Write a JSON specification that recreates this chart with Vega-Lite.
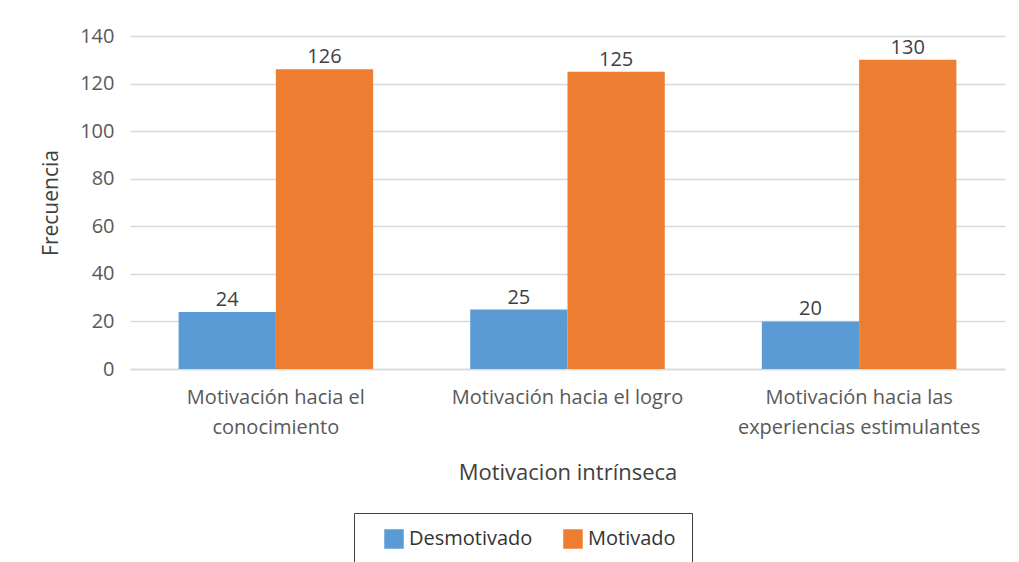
{
  "$schema": "https://vega.github.io/schema/vega-lite/v6.json",
  "autosize": "none",
  "width": 875,
  "height": 333,
  "padding": {"left": 130, "top": 36, "right": 14, "bottom": 193},
  "background": "white",
  "config": {
    "font": "Open Sans",
    "view": {"stroke": null},
    "axis": {"labelColor": "#595959", "titleColor": "#595959", "labelFont": "Open Sans", "titleFont": "Open Sans", "titleFontWeight": "normal"}
  },
  "data": {
    "values": [
      {"cat": "Motivación hacia el conocimiento", "grupo": "Desmotivado", "valor": 24},
      {"cat": "Motivación hacia el conocimiento", "grupo": "Motivado", "valor": 126},
      {"cat": "Motivación hacia el logro", "grupo": "Desmotivado", "valor": 25},
      {"cat": "Motivación hacia el logro", "grupo": "Motivado", "valor": 125},
      {"cat": "Motivación hacia las experiencias estimulantes", "grupo": "Desmotivado", "valor": 20},
      {"cat": "Motivación hacia las experiencias estimulantes", "grupo": "Motivado", "valor": 130}
    ]
  },
  "encoding": {
    "x": {
      "field": "cat", "type": "nominal", "sort": null,
      "scale": {"paddingInner": 0.333, "paddingOuter": 0.1667},
      "title": "Motivacion intrínseca",
      "axis": {
        "labelAngle": 0, "labelFontSize": 20, "labelPadding": 18, "labelLineHeight": 30, "labelLimit": 0,
        "labelBaseline": "top",
        "labelExpr": "datum.value == 'Motivación hacia el conocimiento' ? ['Motivación hacia el', 'conocimiento'] : datum.value == 'Motivación hacia las experiencias estimulantes' ? ['Motivación hacia las', 'experiencias estimulantes'] : datum.value",
        "ticks": false, "domain": true, "domainColor": "#D9D9D9", "domainWidth": 1.5,
        "titleFontSize": 22, "titlePadding": 25, "titleColor": "#404040"
      }
    },
    "xOffset": {"field": "grupo", "type": "nominal", "scale": {"paddingInner": 0}},
    "y": {
      "field": "valor", "type": "quantitative",
      "scale": {"domain": [0, 140], "nice": false},
      "title": "Frecuencia",
      "axis": {
        "values": [0, 20, 40, 60, 80, 100, 120, 140],
        "domain": false, "ticks": false, "gridColor": "#D9D9D9", "gridWidth": 1.5,
        "labelFontSize": 20, "labelPadding": 16, "titleFontSize": 21, "titlePadding": 18, "titleColor": "#404040"
      }
    }
  },
  "layer": [
    {
      "mark": {"type": "bar"},
      "encoding": {
        "color": {
          "field": "grupo", "type": "nominal",
          "scale": {"domain": ["Desmotivado", "Motivado"], "range": ["#5B9BD5", "#ED7D31"]},
          "legend": {
            "title": null, "orient": "none", "direction": "horizontal",
            "legendX": 224, "legendY": 477,
            "strokeColor": "#404040", "padding": 16,
            "symbolType": "square", "symbolSize": 380, "symbolStrokeWidth": 0, "symbolOpacity": 1,
            "labelFontSize": 20, "labelColor": "#333333", "labelFont": "Open Sans",
            "columnPadding": 16, "symbolOffset": 14, "labelOffset": 5
          }
        }
      }
    },
    {
      "mark": {"type": "text", "dy": -12, "fontSize": 20, "color": "#404040", "font": "Open Sans"},
      "encoding": {"text": {"field": "valor", "type": "quantitative"}}
    }
  ]
}
